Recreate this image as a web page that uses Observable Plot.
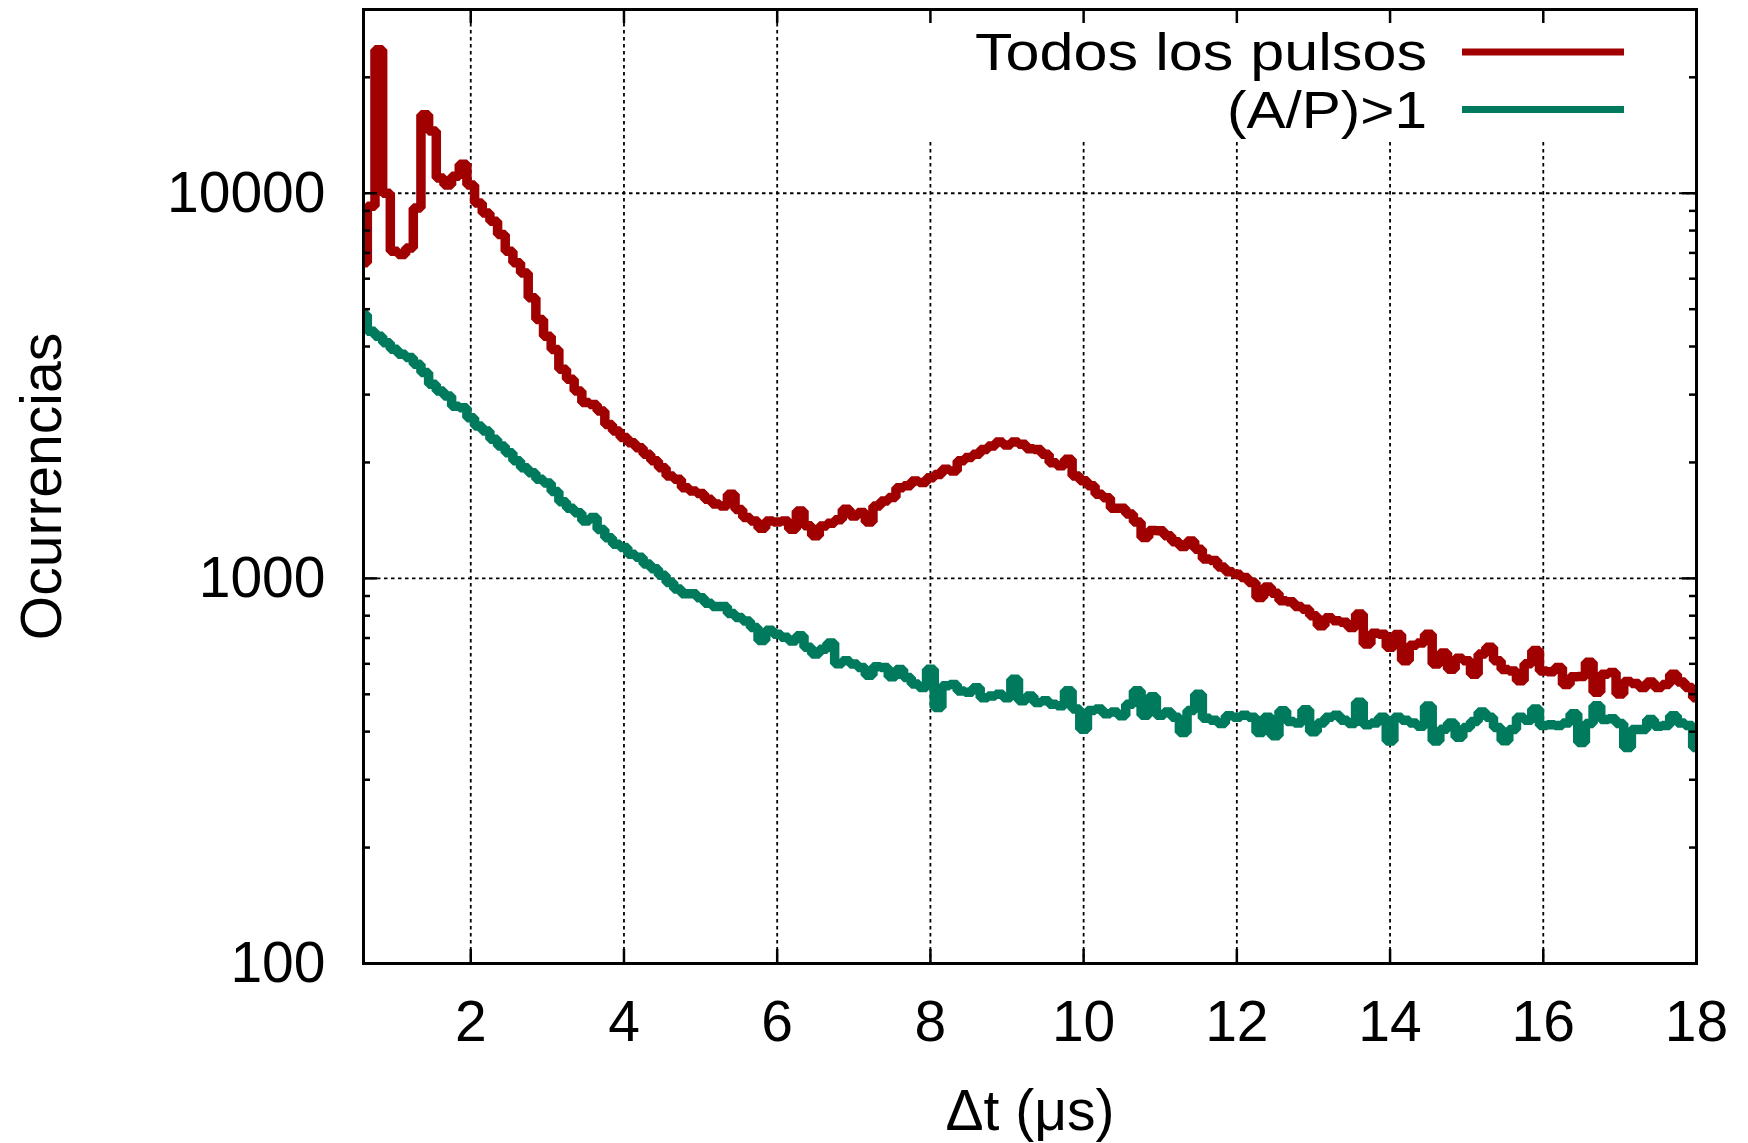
<!DOCTYPE html>
<html>
<head>
<meta charset="utf-8">
<script src="https://cdn.jsdelivr.net/npm/d3@7"></script>
<script src="https://cdn.jsdelivr.net/npm/@observablehq/plot@0.6"></script>
<style>
  html, body { margin: 0; padding: 0; background: #fff; }
  #chart svg { display: block; }
</style>
</head>
<body>
<div id="chart"></div>
<script>
// ---- data ----
const binStart = 0.6;   // µs, centre of first histogram bin
const binWidth = 0.1;   // µs

// "Todos los pulsos" (occurrences per bin, 0.6 … 18.0 µs)
const todosLosPulsos = [
  6600, 9250, 23600, 10000, 7070, 6930, 7210, 9160, 16000, 14500,
  10960, 10500, 11070, 11900, 10500, 9440, 8890, 8460, 7810, 7070,
  6600, 6210, 5350, 4700, 4250, 3930, 3490, 3290, 3065, 2860,
  2830, 2720, 2510, 2415, 2320, 2250, 2185, 2100, 2020, 1938,
  1845, 1808, 1720, 1687,
  1660, 1605, 1560, 1542, 1653, 1510, 1440, 1410, 1350, 1410,
  1400, 1410, 1342, 1497, 1370, 1290, 1368, 1390, 1420, 1512,
  1452, 1483, 1400, 1542, 1589, 1622, 1720, 1740, 1790, 1775,
  1825, 1862, 1920, 1900, 2020, 2060, 2100, 2160, 2207, 2260,
  2220, 2260, 2230, 2170, 2160, 2100, 1997, 1960, 2038, 1845,
  1792, 1740, 1653, 1620, 1520, 1520, 1470, 1400, 1276, 1331,
  1330, 1290, 1245, 1210, 1250, 1190, 1122, 1112, 1070, 1040,
  1025, 1006, 976, 892, 950, 915, 875, 870, 845, 832,
  800, 753, 790, 776, 769, 746, 808, 675, 720, 716,
  662, 715, 611, 670, 680, 716, 599, 640, 581, 620,
  611, 564, 636, 662, 611, 580, 575, 542, 600, 650,
  575, 572, 587, 530, 555, 556, 606, 506, 564, 570,
  501, 540, 533, 521, 538, 521, 530, 564, 538, 521,
  490
];

// "(A/P)>1"
const apMayorQue1 = [
  4840, 4385, 4255, 4090, 3935, 3820, 3745, 3600, 3422, 3193,
  3065, 2975, 2800, 2773, 2612, 2487, 2415, 2297, 2207, 2120,
  2020, 1938, 1880, 1808, 1770, 1680, 1580, 1520, 1480, 1410,
  1440, 1340, 1275, 1226, 1202, 1156, 1134, 1090, 1060, 1019,
  976, 939, 912, 912,
  890, 862, 845, 845, 810, 791, 775, 746, 690, 733,
  716, 703, 688, 710, 662, 636, 655, 680, 600, 611,
  599, 587, 560, 590, 587, 555, 580, 553, 532, 521,
  581, 462, 526, 530, 510, 506, 520, 490, 495, 500,
  490, 547, 481, 495, 476, 481, 471, 467, 511, 458,
  406, 454, 458, 445, 450, 440, 471, 511, 441, 493,
  441, 450, 436, 398, 454, 500, 433, 428, 420, 440,
  436, 441, 436, 398, 436, 390, 453, 425, 421, 456,
  400, 421, 436, 441, 428, 420, 477, 417, 421, 436,
  378, 436, 428, 421, 413, 466, 378, 406, 421, 387,
  410, 425, 450, 436, 410, 379, 405, 436, 428, 458,
  415, 417, 415, 421, 445, 375, 420, 467, 430, 432,
  420, 364, 405, 405, 430, 413, 415, 440, 421, 415,
  364
];

const seriesNames = ["Todos los pulsos", "(A/P)>1"];
const seriesColors = ["#a00000", "#007a5c"];

const xTicks = [2, 4, 6, 8, 10, 12, 14, 16, 18];
const yMajor = [100, 1000, 10000];
const yMinor = [200, 300, 400, 500, 600, 700, 800, 900,
                2000, 3000, 4000, 5000, 6000, 7000, 8000, 9000, 20000, 30000];
const xLabel = "Δt (μs)";
const yLabel = "Ocurrencias";

// ---- build table ----
const rows = [];
[todosLosPulsos, apMayorQue1].forEach((arr, s) => {
  arr.forEach((v, i) => rows.push({
    t: +(binStart + i * binWidth).toFixed(2), v, serie: seriesNames[s]
  }));
});

// ---- layout ----
const W = 1748, H = 1143;
const mL = 363, mR = 52, mT = 9, mB = 180;
const pw = W - mL - mR, ph = H - mT - mB;
const font = "'Liberation Sans', Arial, Helvetica, sans-serif";
const fs = 57;
const grid = {stroke: "black", strokeWidth: 1.8, strokeDasharray: "3.5,3.5"};

const plot = Plot.plot({
  width: W, height: H,
  marginLeft: mL, marginRight: mR, marginTop: mT, marginBottom: mB,
  style: {fontFamily: font, background: "white", color: "black"},
  x: {domain: [0.6, 18], axis: null},
  y: {type: "log", domain: [100, 30000], axis: null},
  color: {domain: seriesNames, range: seriesColors},
  marks: [
    // grid
    Plot.ruleX(xTicks.filter(d => d < 18), {x: d => d, ...grid}),
    Plot.ruleY(yMajor.filter(d => d > 100), {y: d => d, ...grid}),
    // opaque key box
    Plot.frame({fill: "white", stroke: null, insetLeft: pw - 816, insetBottom: ph - 131}),
    // data
    Plot.line(rows, {x: "t", y: "v", z: "serie", stroke: "serie", strokeWidth: 9.5,
      curve: "step", strokeLinejoin: "miter", strokeLinecap: "butt", clip: true}),
    // inward ticks (all four sides)
    Plot.tickX(xTicks, {x: d => d, insetTop: ph - 14, strokeWidth: 2.5}),
    Plot.tickX(xTicks, {x: d => d, insetBottom: ph - 14, strokeWidth: 2.5}),
    Plot.tickY(yMajor, {y: d => d, insetRight: pw - 14, strokeWidth: 2.5}),
    Plot.tickY(yMajor, {y: d => d, insetLeft: pw - 14, strokeWidth: 2.5}),
    Plot.tickY(yMinor, {y: d => d, insetRight: pw - 7, strokeWidth: 2.5}),
    Plot.tickY(yMinor, {y: d => d, insetLeft: pw - 7, strokeWidth: 2.5}),
    Plot.frame({stroke: "black", strokeWidth: 3}),
    // tick labels
    Plot.text(xTicks, {x: d => d, frameAnchor: "bottom", lineAnchor: "middle", dy: 59,
      text: d => String(d), fontSize: fs, fill: "black"}),
    Plot.text(yMajor, {y: d => d, frameAnchor: "left", lineAnchor: "middle", dx: -38, textAnchor: "end",
      text: d => String(d), fontSize: fs, fill: "black"}),
    // axis labels
    Plot.text([xLabel], {frameAnchor: "bottom", lineAnchor: "middle", textAnchor: "middle", dy: 148,
      text: d => d, fontSize: fs, fill: "black"}),
    Plot.text([yLabel], {frameAnchor: "left", lineAnchor: "middle", textAnchor: "middle", dx: -321, rotate: -90,
      text: d => d, fontSize: fs, fill: "black"})
  ]
});

document.getElementById("chart").appendChild(plot);

// ---- key (inside top-right of the frame) ----
const xs = plot.scale("x"), ys = plot.scale("y");
const frameRight = xs.range[1];
const frameTop = Math.min(...ys.range);
const keyTextLength = [452, 200];
const svg = d3.select(plot);
const key = svg.append("g").attr("font-family", font).attr("font-size", 51);
seriesNames.forEach((name, i) => {
  const cy = frameTop + 43 + i * 57.6;
  key.append("text")
    .attr("x", frameRight - 269)
    .attr("y", cy + 18)
    .attr("text-anchor", "end")
    .attr("textLength", keyTextLength[i])
    .attr("lengthAdjust", "spacingAndGlyphs")
    .attr("fill", "black")
    .text(name);
  key.append("line")
    .attr("x1", frameRight - 234).attr("x2", frameRight - 72)
    .attr("y1", cy).attr("y2", cy)
    .attr("stroke", seriesColors[i]).attr("stroke-width", 7);
});
</script>
</body>
</html>
